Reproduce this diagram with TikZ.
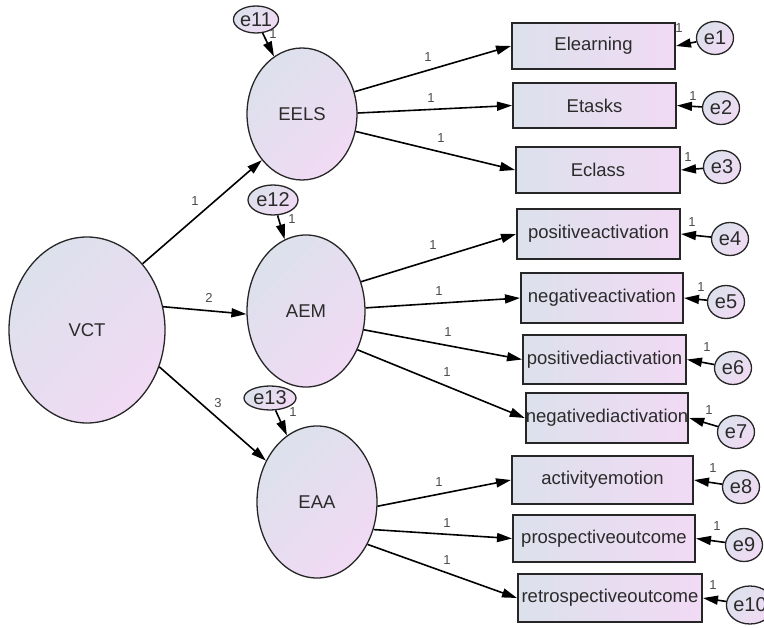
\documentclass[tikz,border=0pt]{standalone}
\usepackage{fontspec}
\setmainfont{Liberation Sans}
\usetikzlibrary{shapes.geometric,arrows.meta}
\definecolor{cA}{HTML}{DCE1EC}
\definecolor{cB}{HTML}{F1DAF4}
\definecolor{txt}{HTML}{2B2B2B}
\begin{document}
\begin{tikzpicture}[x=1pt,y=-1pt,
  lat/.style={ellipse, draw=black!85, line width=1.3pt, inner sep=0pt, top color=cA, bottom color=cB, shading angle=45, font=\fontsize{18.5}{20}\selectfont, text=txt},
  ind/.style={rectangle, draw=black!85, line width=2pt, inner sep=0pt, left color=cA, right color=cB, minimum height=47pt, font=\fontsize{18.5}{20}\selectfont, text=txt},
  err/.style={ellipse, draw=black!85, line width=1.3pt, inner sep=0pt, top color=cA, bottom color=cB, shading angle=45, minimum width=37pt, minimum height=33pt, font=\fontsize{20}{22}\selectfont, text=txt},
  arr/.style={-{Triangle[length=15pt,width=9pt]}, line width=1.6pt, draw=black},
  lbl/.style={font=\fontsize{13}{14}\selectfont, text=txt!85, inner sep=0pt}]
\useasboundingbox (0,0) rectangle (764,628);

% latent variables
\node[lat, minimum width=156pt, minimum height=186pt] (VCT) at (87,330) {VCT};
\node[lat, minimum width=110pt, minimum height=132pt] (EELS) at (302,114) {EELS};
\node[lat, minimum width=118pt, minimum height=152pt] (AEM) at (306,311) {AEM};
\node[lat, minimum width=120pt, minimum height=152pt] (EAA) at (317,502) {EAA};

% latent errors
\node[err, minimum width=41pt, minimum height=27pt] (e11) at (256,19.5) {e11};
\node[err, minimum width=50pt, minimum height=30pt] (e12) at (273,200) {e12};
\node[err, minimum width=52pt, minimum height=24pt] (e13) at (270,398) {e13};

% indicators
\node[ind, minimum width=163pt, minimum height=46pt] (Elearning) at (593.5,46) {Elearning};
\node[ind, minimum width=163pt, minimum height=45pt] (Etasks) at (594.5,105.5) {Etasks};
\node[ind, minimum width=164pt, minimum height=46pt] (Eclass) at (598,170) {Eclass};
\node[ind, minimum width=163pt, minimum height=50pt] (pa) at (598.5,234) {positiveactivation};
\node[ind, minimum width=162pt, minimum height=50pt] (na) at (602,298) {negativeactivation};
\node[ind, minimum width=163pt, minimum height=49pt] (pd) at (604.5,359.5) {positivediactivation};
\node[ind, minimum width=162pt, minimum height=50pt] (nd) at (607,418) {negativediactivation};
\node[ind, minimum width=181pt, minimum height=48pt] (ae) at (602.5,480) {activityemotion};
\node[ind, minimum width=182pt, minimum height=47pt] (po) at (604,538.5) {prospectiveoutcome};
\node[ind, minimum width=184pt, minimum height=48pt] (ro) at (610,598) {retrospectiveoutcome};

% indicator errors
\node[err] (e1) at (715,38) {e1};
\node[err] (e2) at (721,108) {e2};
\node[err] (e3) at (722,167) {e3};
\node[err] (e4) at (730,239) {e4};
\node[err] (e5) at (726,302) {e5};
\node[err] (e6) at (733,368) {e6};
\node[err] (e7) at (736,432) {e7};
\node[err] (e8) at (741,487) {e8};
\node[err] (e9) at (744,545) {e9};
\node[err, minimum width=40pt, minimum height=38pt] (e10) at (750,605) {e10};

% structural paths
\draw[arr] (VCT.50) -- (EELS.229);
\draw[arr] (VCT.17) -- (AEM.183);
\draw[arr] (VCT.-27) -- (EAA.141);
\node[lbl] (s1) at (195,201) {1};
\node[lbl] (s2) at (209,298) {2};
\node[lbl] (s3) at (218,403) {3};

% latent error paths
\draw[arr] (e11) -- (EELS);
\draw[arr] (e12) -- (AEM);
\draw[arr] (e13) -- (EAA);
\node[lbl] (l11) at (273,34) {1};
\node[lbl] (l12) at (292,219) {1};
\node[lbl] (l13) at (293,412) {1};

% loadings
\draw[arr] (EELS.23) -- (Elearning.west);
\draw[arr] (EELS.1) -- (Etasks.west);
\draw[arr] (EELS.-18) -- (Eclass.west);
\draw[arr] (AEM.28) -- (pa.west);
\draw[arr] (AEM.3) -- (na.west);
\draw[arr] (AEM.-18) -- (pd.west);
\draw[arr] (AEM.-37) -- (nd.west);
\draw[arr] (EAA.-4) -- (ae.west);
\draw[arr] (EAA.-26) -- (po.west);
\draw[arr] (EAA.-40) -- (ro.west);
\node[lbl] (a1) at (428,57) {1};
\node[lbl] (a2) at (431,98) {1};
\node[lbl] (a3) at (441,138) {1};
\node[lbl] (a4) at (433,245) {1};
\node[lbl] (a5) at (439,291) {1};
\node[lbl] (a6) at (448,332) {1};
\node[lbl] (a7) at (447,372) {1};
\node[lbl] (a8) at (439,482) {1};
\node[lbl] (a9) at (447,523) {1};
\node[lbl] (a10) at (447,560) {1};

% measurement error paths
\draw[arr] (e1) -- (Elearning.east);
\draw[arr] (e2) -- (Etasks.east);
\draw[arr] (e3) -- (Eclass.east);
\draw[arr] (e4) -- (pa.east);
\draw[arr] (e5) -- (na.east);
\draw[arr] (e6) -- (pd.east);
\draw[arr] (e7) -- (nd.east);
\draw[arr] (e8) -- (ae.east);
\draw[arr] (e9) -- (po.east);
\draw[arr] (e10) -- (ro.east);
\node[lbl] (b1) at (679,28) {1};
\node[lbl] (b2) at (693,96) {1};
\node[lbl] (b3) at (688,157) {1};
\node[lbl] (b4) at (692,222) {1};
\node[lbl] (b5) at (701,287) {1};
\node[lbl] (b6) at (707,347) {1};
\node[lbl] (b7) at (709,410) {1};
\node[lbl] (b8) at (713,468) {1};
\node[lbl] (b9) at (717,526) {1};
\node[lbl] (b10) at (713,585) {1};
\end{tikzpicture}
\end{document}
